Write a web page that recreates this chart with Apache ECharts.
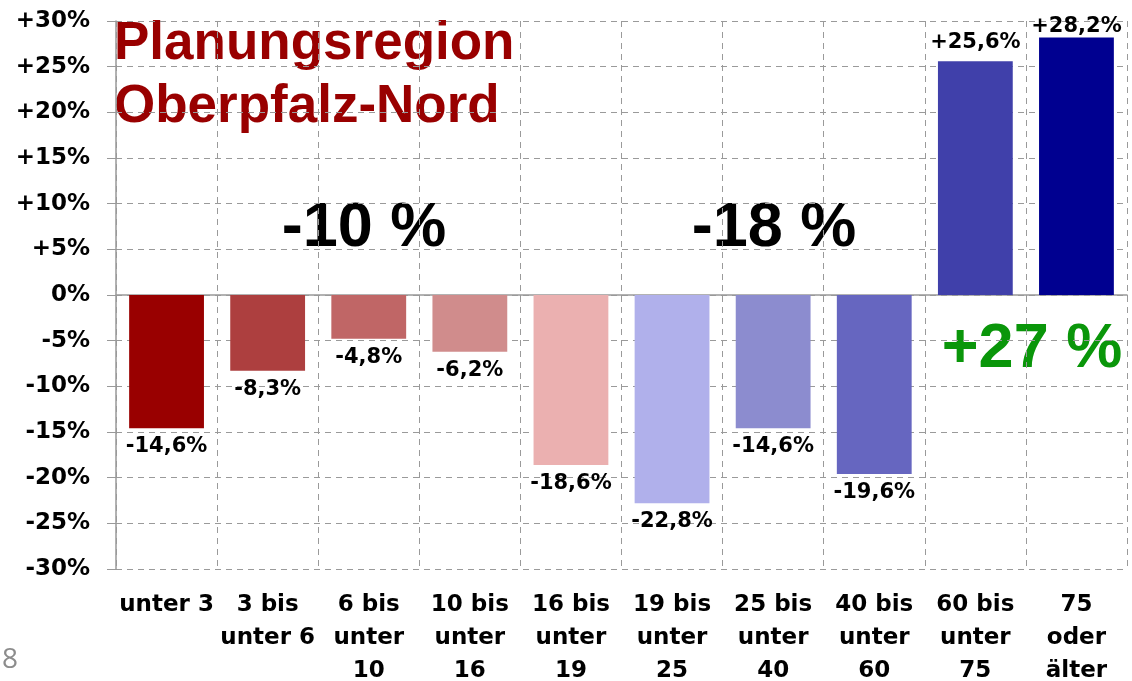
<!DOCTYPE html>
<html>
<head>
<meta charset="utf-8">
<script src="https://cdn.jsdelivr.net/npm/echarts@6/dist/echarts.min.js"></script>
<style>
  html, body { margin: 0; padding: 0; background: #fff; }
  #chart { width: 1132px; height: 681px; }
</style>
</head>
<body>
<div id="chart"></div>
<script>
// age groups and change in %
const categories = ['unter 3', '3 bis\nunter 6', '6 bis\nunter\n10', '10 bis\nunter\n16', '16 bis\nunter\n19',
  '19 bis\nunter\n25', '25 bis\nunter\n40', '40 bis\nunter\n60', '60 bis\nunter\n75', '75\noder\nälter'];
const changes = [-14.6, -8.3, -4.8, -6.2, -18.6, -22.8, -14.6, -19.6, 25.6, 28.2];
const barColors = ['#990000', '#ad3f3f', '#c06666', '#d08c8c', '#ebb0b0',
  '#b0b0eb', '#8c8ccf', '#6666c0', '#4040aa', '#000090'];

const chartFont = 'DejaVu Sans';
const textFont = 'Liberation Sans, Arial, sans-serif';

function fmtPct(v) {
  return (v > 0 ? '+' : '') + v.toFixed(1).replace('.', ',') + '%';
}

var chart = echarts.init(document.getElementById('chart'));

const option = {
  animation: false,
  grid: { left: 116, right: 5, top: 21, bottom: 112, outerBoundsMode: 'none', containLabel: false },
  xAxis: [
    {
      type: 'category',
      data: categories,
      axisLine: { show: false, onZero: false },
      axisTick: { show: false },
      splitLine: {
        show: true,
        interval: 0,
        lineStyle: { color: '#9a9a9a', type: [6, 5], width: 1 }
      },
      axisLabel: {
        interval: 0,
        margin: 20,
        color: '#000',
        fontFamily: chartFont,
        fontWeight: 'bold',
        fontSize: 23,
        lineHeight: 33
      }
    },
    {
      type: 'category',
      data: categories,
      position: 'bottom',
      axisLine: { onZero: true, lineStyle: { color: '#999', width: 1.5 } },
      axisTick: { show: true, length: 5, lineStyle: { color: '#999' } },
      axisLabel: { show: false },
      splitLine: { show: false }
    }
  ],
  yAxis: {
    type: 'value',
    min: -30,
    max: 30,
    interval: 5,
    axisLine: { show: true, lineStyle: { color: '#999', width: 1.5 } },
    axisTick: { show: true, length: 9, lineStyle: { color: '#999' } },
    splitLine: { lineStyle: { color: '#9a9a9a', type: [6, 5], width: 1 } },
    axisLabel: {
      margin: 26,
      color: '#000',
      fontFamily: chartFont,
      fontWeight: 'bold',
      fontSize: 23,
      formatter: function (v) { return (v > 0 ? '+' : '') + v + '%'; }
    }
  },
  series: [
    {
      type: 'bar',
      xAxisIndex: 0,
      barCategoryGap: '26%',
      data: changes.map(function (v, i) {
        const item = { value: v, itemStyle: { color: barColors[i] } };
        if (i === changes.length - 1) item.label = { distance: 0 };
        return item;
      }),
      label: {
        show: true,
        position: 'outside',
        distance: 8,
        color: '#000',
        fontFamily: chartFont,
        fontWeight: 'bold',
        fontSize: 21,
        formatter: function (p) { return fmtPct(p.value); }
      }
    }
  ],
  graphic: [
    {
      type: 'text', left: 114, top: 13,
      style: {
        text: 'Planungsregion\nOberpfalz-Nord',
        fill: '#990000',
        font: 'bold 53px ' + textFont,
        lineHeight: 63
      }
    },
    {
      type: 'text', x: 364, y: 229,
      style: { text: '-10 %', fill: '#000', font: 'bold 63px ' + textFont, textAlign: 'center', textVerticalAlign: 'middle' }
    },
    {
      type: 'text', x: 774, y: 229,
      style: { text: '-18 %', fill: '#000', font: 'bold 63px ' + textFont, textAlign: 'center', textVerticalAlign: 'middle' }
    },
    {
      type: 'text', x: 1032, y: 350,
      style: { text: '+27 %', fill: '#0a960a', font: 'bold 63px ' + textFont, textAlign: 'center', textVerticalAlign: 'middle' }
    },
    {
      type: 'text', x: 2, y: 660,
      style: { text: '8', fill: '#8c8c8c', font: '28px Open Sans, sans-serif', textVerticalAlign: 'middle' }
    }
  ]
};

chart.setOption(option);
</script>
</body>
</html>
